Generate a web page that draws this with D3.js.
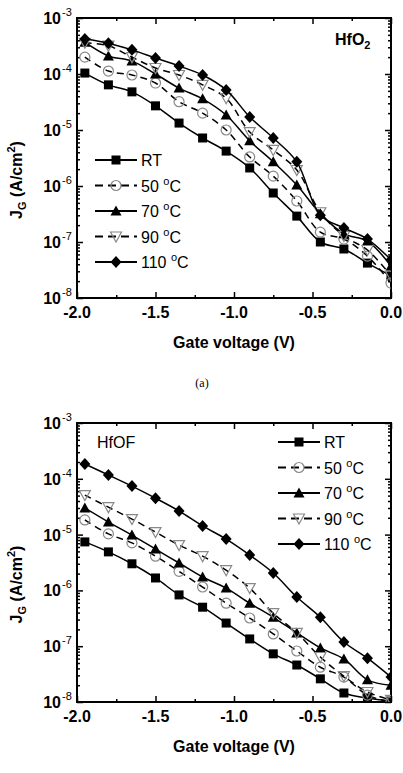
<!DOCTYPE html>
<html><head><meta charset="utf-8">
<script src="https://cdn.jsdelivr.net/npm/d3@7"></script>
<style>
html,body{margin:0;padding:0;background:#fff;}
text{font-family:"Liberation Sans",Arial,sans-serif;}
text.serif{font-family:"Liberation Serif","Times New Roman",serif;}
</style></head>
<body><svg id="c" width="403" height="773"></svg>
<script>
const voltages = [-1.95,-1.8,-1.65,-1.5,-1.35,-1.2,-1.05,-0.9,-0.75,-0.6,-0.45,-0.3,-0.15,0.0];
const seriesNames = ["RT","50 °C","70 °C","90 °C","110 °C"];
// Panel (a) HfO2
const hfo2_RT  = [1.04e-4,6.4e-5,4.8e-5,2.7e-5,1.33e-5,7.2e-6,4.2e-6,2.1e-6,7.5e-7,2.9e-7,1.0e-7,7.5e-8,4.2e-8,2.5e-8];
const hfo2_50  = [2.0e-4,1.13e-4,9.6e-5,6.9e-5,3.2e-5,2.0e-5,1.0e-5,3.3e-6,1.5e-6,5.4e-7,1.5e-7,1.13e-7,5.6e-8,1.85e-8];
const hfo2_70  = [3.7e-4,2.1e-4,1.7e-4,1.0e-4,5.6e-5,3.6e-5,1.85e-5,6.4e-6,2.7e-6,1.04e-6,3.2e-7,1.4e-7,1.04e-7,3.7e-8];
const hfo2_90  = [3.6e-4,3.2e-4,2.0e-4,1.28e-4,9.6e-5,6.4e-5,3.7e-5,9.2e-6,4.4e-6,1.93e-6,3.4e-7,1.28e-7,7.2e-8,2.5e-8];
const hfo2_110 = [4.2e-4,3.55e-4,2.7e-4,1.93e-4,1.39e-4,9.6e-5,5.2e-5,1.71e-5,7.2e-6,2.7e-6,3.0e-7,1.78e-7,1.13e-7,4.8e-8];
// Panel (b) HfOF
const hfof_RT  = [7.4e-6,4.9e-6,3.0e-6,1.67e-6,8.3e-7,5.0e-7,2.6e-7,1.35e-7,7.3e-8,4.6e-8,2.6e-8,1.45e-8,1.18e-8,1.04e-8];
const hfof_50  = [1.83e-5,1.03e-5,7.1e-6,4.1e-6,2.2e-6,1.15e-6,5.9e-7,3.2e-7,1.66e-7,8.2e-8,4.2e-8,2.8e-8,1.33e-8,1.0e-8];
const hfof_70  = [3.0e-5,1.68e-5,9.8e-6,5.5e-6,3.1e-6,1.74e-6,1.1e-6,5.9e-7,3.3e-7,1.73e-7,9.3e-8,5.9e-8,2.5e-8,2.0e-8];
const hfof_90  = [5.1e-5,3.1e-5,1.9e-5,1.11e-5,6.5e-6,4.1e-6,2.3e-6,1.1e-6,3.9e-7,1.73e-7,6.4e-8,2.9e-8,1.51e-8,1.09e-8];
const hfof_110 = [1.84e-4,1.17e-4,7.4e-5,4.5e-5,2.65e-5,1.43e-5,8.3e-6,4.3e-6,2.05e-6,7.6e-7,3.3e-7,1.19e-7,6.1e-8,2.8e-8];
const xTicks = [-2.0,-1.5,-1.0,-0.5,0.0];
const xTickLabels = ["-2.0","-1.5","-1.0","-0.5","0.0"];
const yExps = [-8,-7,-6,-5,-4,-3];

const svg = d3.select("#c");
const styles = [
  {sym:"square", fill:"#000", stroke:"#000", dash:null},
  {sym:"circle", fill:"none", stroke:"#888", dash:"7,5"},
  {sym:"triangle", fill:"#000", stroke:"#000", dash:null},
  {sym:"tridown", fill:"none", stroke:"#888", dash:"7,5"},
  {sym:"diamond", fill:"#000", stroke:"#000", dash:null}
];
function marker(g, s, cx, cy, clip){
  let m;
  if(s.sym==="square") m = g.append("rect").attr("x",cx-4.5).attr("y",cy-4.5).attr("width",9).attr("height",9).attr("fill",s.fill);
  else if(s.sym==="circle") m = g.append("circle").attr("cx",cx).attr("cy",cy).attr("r",5).attr("fill","none").attr("stroke",s.stroke).attr("stroke-width",1.2);
  else if(s.sym==="triangle") m = g.append("path").attr("d",`M${cx},${cy-5.5}L${cx+5.5},${cy+4.5}L${cx-5.5},${cy+4.5}Z`).attr("fill",s.fill);
  else if(s.sym==="tridown") m = g.append("path").attr("d",`M${cx-5.5},${cy-4.5}L${cx+5.5},${cy-4.5}L${cx},${cy+5.5}Z`).attr("fill","none").attr("stroke",s.stroke).attr("stroke-width",1.2);
  else if(s.sym==="diamond") m = g.append("path").attr("d",`M${cx},${cy-6}L${cx+5.5},${cy}L${cx},${cy+6}L${cx-5.5},${cy}Z`).attr("fill",s.fill);
  if(clip) m.attr("clip-path",`url(#${clip})`);
}

function panel(opt){
  const x = d3.scaleLinear().domain([-2,0]).range([opt.left,opt.right]);
  const y = d3.scaleLog().domain([1e-8,1e-3]).range([opt.bottom,opt.top]);
  const g = svg.append("g");
  const minor = [];
  for(let e=-8;e<-3;e++) for(let m=2;m<=9;m++) minor.push(m*Math.pow(10,e));
  const xMinor = [-1.75,-1.25,-0.75,-0.25];
  const axes = [
    [d3.axisBottom(x).tickValues(xTicks).tickSize(-6).tickFormat(""), `translate(0,${opt.bottom})`],
    [d3.axisBottom(x).tickValues(xMinor).tickSize(-3).tickFormat(""), `translate(0,${opt.bottom})`],
    [d3.axisTop(x).tickValues(xTicks).tickSize(-6).tickFormat(""), `translate(0,${opt.top})`],
    [d3.axisTop(x).tickValues(xMinor).tickSize(-3).tickFormat(""), `translate(0,${opt.top})`],
    [d3.axisLeft(y).tickValues(yExps.map(e=>Math.pow(10,e))).tickSize(-6).tickFormat(""), `translate(${opt.left},0)`],
    [d3.axisLeft(y).tickValues(minor).tickSize(-3).tickFormat(""), `translate(${opt.left},0)`],
    [d3.axisRight(y).tickValues(yExps.map(e=>Math.pow(10,e))).tickSize(-6).tickFormat(""), `translate(${opt.right},0)`],
    [d3.axisRight(y).tickValues(minor).tickSize(-3).tickFormat(""), `translate(${opt.right},0)`]
  ];
  axes.forEach(([ax,tr])=>{
    const a = g.append("g").attr("transform",tr).call(ax);
    a.select(".domain").remove();
    a.selectAll("line").attr("stroke","#000").attr("stroke-width",1.5);
  });
  g.append("rect").attr("x",opt.left).attr("y",opt.top).attr("width",opt.right-opt.left).attr("height",opt.bottom-opt.top)
    .attr("fill","none").attr("stroke","#000").attr("stroke-width",2);
  xTicks.forEach((v,i)=>{
    g.append("text").attr("x",x(v)).attr("y",opt.bottom+20).attr("text-anchor","middle")
     .attr("font-size",16).attr("font-weight","bold").text(xTickLabels[i]);
  });
  yExps.forEach(e=>{
    g.append("text").attr("x",opt.left-16).attr("y",y(Math.pow(10,e))+6).attr("text-anchor","end").attr("font-size",16).attr("font-weight","bold").text("10");
    g.append("text").attr("x",opt.left-15).attr("y",y(Math.pow(10,e))-2).attr("font-size",11).text(String(e));
  });
  g.append("text").attr("x",(opt.left+opt.right)/2).attr("y",opt.bottom+50).attr("text-anchor","middle")
   .attr("font-size",16).attr("font-weight","bold").text("Gate voltage (V)");
  const yt = g.append("text").attr("transform",`translate(${opt.left-55},${(opt.top+opt.bottom)/2+22}) rotate(-90)`)
   .attr("text-anchor","middle").attr("font-size",16).attr("font-weight","bold");
  yt.append("tspan").text("J");
  yt.append("tspan").attr("font-size",11).attr("dy",4).text("G");
  yt.append("tspan").attr("dy",-4).text(" (A/cm");
  yt.append("tspan").attr("font-size",11).attr("dy",-7).text("2");
  yt.append("tspan").attr("dy",7).text(")");
  const line = d3.line().x((d,i)=>x(voltages[i])).y(d=>y(d)).curve(d3.curveCatmullRom.alpha(0.5));
  const clip = "clip"+opt.id;
  svg.append("clipPath").attr("id",clip).append("rect").attr("x",opt.left).attr("y",opt.top).attr("width",opt.right-opt.left).attr("height",opt.bottom-opt.top);
  const sg = g.append("g");
  opt.data.forEach((arr,k)=>{
    const s = styles[k];
    sg.append("path").attr("d",line(arr)).attr("fill","none").attr("stroke","#000").attr("stroke-width",1.5)
      .attr("stroke-dasharray",s.dash).attr("clip-path",`url(#${clip})`);
    arr.forEach((v,i)=>{ marker(sg,s,x(voltages[i]),y(v),clip); });
  });
  seriesNames.forEach((n,k)=>{
    const s = styles[k];
    const ly = opt.legY + k*opt.legDy;
    g.append("line").attr("x1",opt.legX).attr("x2",opt.legX+42).attr("y1",ly).attr("y2",ly)
      .attr("stroke","#000").attr("stroke-width",1.8).attr("stroke-dasharray",s.dash?"8,5":null);
    marker(g,s,opt.legX+21,ly);
    const t = g.append("text").attr("x",opt.legX+46).attr("y",ly+6).attr("font-size",16);
    if(k===0) t.text("RT");
    else {
      t.append("tspan").text(n.split(" ")[0]+" ");
      t.append("tspan").attr("font-size",11).attr("dy",-7).text("o");
      t.append("tspan").attr("dy",7).text("C");
    }
  });
  const ml = g.append("text").attr("x",opt.matX).attr("y",opt.matY).attr("font-size",16).attr("font-weight",opt.matBold?"bold":"normal");
  if(opt.id==="a"){ ml.append("tspan").text("HfO"); ml.append("tspan").attr("font-size",11).attr("dy",4).text("2"); }
  else ml.text("HfOF");
}

panel({id:"a",left:77,right:391,top:18,bottom:298,
  data:[hfo2_RT,hfo2_50,hfo2_70,hfo2_90,hfo2_110],
  legX:95,legY:160,legDy:25.5,matX:335,matY:45,matBold:true});
panel({id:"b",left:77,right:391,top:423,bottom:702,
  data:[hfof_RT,hfof_50,hfof_70,hfof_90,hfof_110],
  legX:278,legY:442,legDy:25.5,matX:97,matY:448,matBold:false});

svg.append("text").attr("class","serif").attr("x",202).attr("y",387).attr("text-anchor","middle")
  .attr("font-size",12).text("(a)");
</script></body></html>
